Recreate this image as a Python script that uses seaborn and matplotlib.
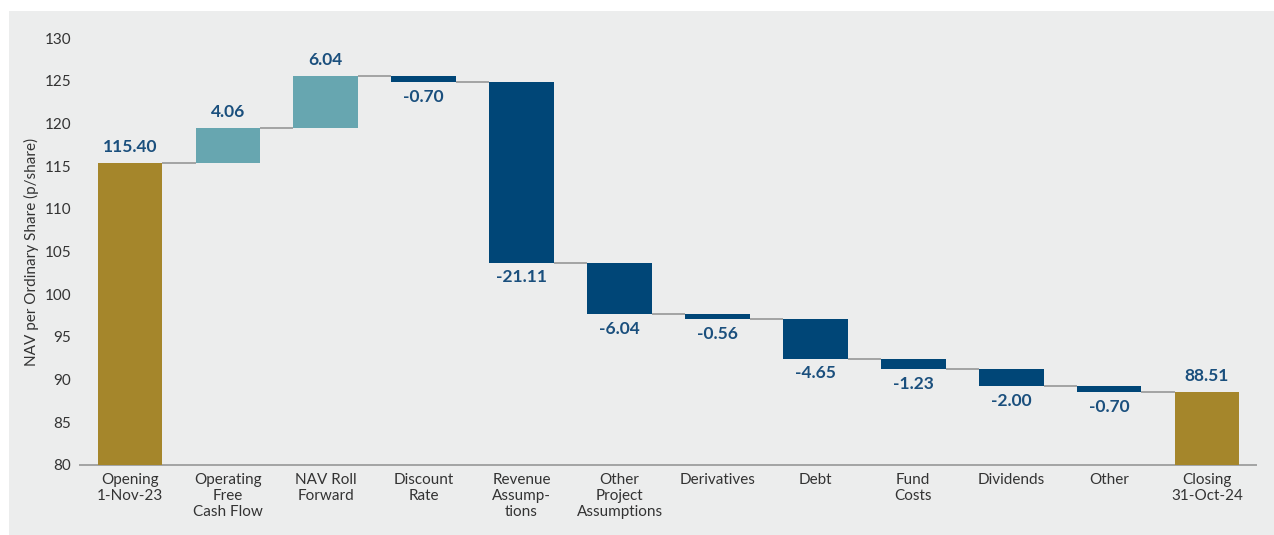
import matplotlib
matplotlib.use("Agg")
import matplotlib.pyplot as plt
import seaborn as sns
import pandas as pd
import numpy as np
from matplotlib.patches import Rectangle

categories = ["Opening\n1-Nov-23", "Operating\nFree\nCash Flow", "NAV Roll\nForward",
              "Discount\nRate", "Revenue\nAssump-\ntions", "Other\nProject\nAssumptions",
              "Derivatives", "Debt", "Fund\nCosts", "Dividends", "Other", "Closing\n31-Oct-24"]
opening = 115.40
changes = [4.06, 6.04, -0.70, -21.11, -6.04, -0.56, -4.65, -1.23, -2.00, -0.70]
closing = 88.51
labels = ["115.40", "4.06", "6.04", "-0.70", "-21.11", "-6.04", "-0.56", "-4.65",
          "-1.23", "-2.00", "-0.70", "88.51"]

GOLD = "#A5862B"
TEAL = "#67A6B0"
NAVY = "#004677"
LABEL = "#1A4F7D"
BG = "#ECEDED"

# running totals
levels = [opening]
for c in changes:
    levels.append(levels[-1] + c)
bottoms = [0.0]
heights = [opening]
colors = [GOLD]
for i, c in enumerate(changes):
    lo = min(levels[i], levels[i + 1])
    bottoms.append(lo)
    heights.append(abs(c))
    colors.append(TEAL if c > 0 else NAVY)
bottoms.append(0.0)
heights.append(closing)
colors.append(GOLD)
tops = [b + h for b, h in zip(bottoms, heights)]

df = pd.DataFrame({"cat": categories, "h": heights})

sns.set_theme(style="white")
plt.rcParams["font.family"] = ["Lato", "DejaVu Sans"]

fig = plt.figure(figsize=(12.74, 5.35), dpi=100)
fig.patch.set_facecolor("white")
fig.patches.append(Rectangle((9 / 1274, 0), 1 - 9 / 1274, 1 - 11 / 535,
                             transform=fig.transFigure, facecolor=BG,
                             edgecolor="none", zorder=-10))
ax = fig.add_axes([80 / 1274, (535 - 465) / 535, 1176 / 1274, 427 / 535])
ax.set_facecolor("none")

sns.barplot(data=df, x="cat", y="h", order=categories, bottom=bottoms,
            width=0.66, errorbar=None, color=NAVY, ax=ax, linewidth=0,
            zorder=3)
for p, c in zip(ax.patches, colors):
    p.set_facecolor(c)
    p.set_edgecolor("none")

# connectors
bw = 0.66
for i in range(len(categories) - 1):
    ax.plot([i + bw / 2, i + 1 - bw / 2], [levels[i], levels[i]],
            color="#A3A3A3", lw=1.4, zorder=2, solid_capstyle="butt")

# value labels
for i, lab in enumerate(labels):
    if i == 0 or i == len(labels) - 1 or changes[i - 1] > 0:
        y, off = tops[i], 11.5
    else:
        y, off = bottoms[i], -10.5
    ax.annotate(lab, (i, y), xytext=(0, off), textcoords="offset points",
                ha="center", va="center", fontsize=12.5, fontweight="bold",
                color=LABEL, zorder=4)

ax.set_ylim(80, 130)
ax.set_xlim(-0.51, 11.5)
ax.set_yticks(range(80, 131, 5))
ax.tick_params(axis="y", length=0, labelsize=11, pad=6.5, labelcolor="#333333")
ax.tick_params(axis="x", length=0, labelsize=11, pad=6, labelcolor="#333333")
for lab in ax.get_xticklabels():
    lab.set_linespacing(1.15)
ax.set_xlabel("")
ax.set_ylabel("NAV per Ordinary Share (p/share)", fontsize=11, color="#333333",
              labelpad=3.5)
for s in ["top", "right", "left"]:
    ax.spines[s].set_visible(False)
ax.spines["bottom"].set_color("#A3A3A3")
ax.spines["bottom"].set_linewidth(1.4)

fig.savefig("out.png", dpi=100, facecolor=fig.get_facecolor())
